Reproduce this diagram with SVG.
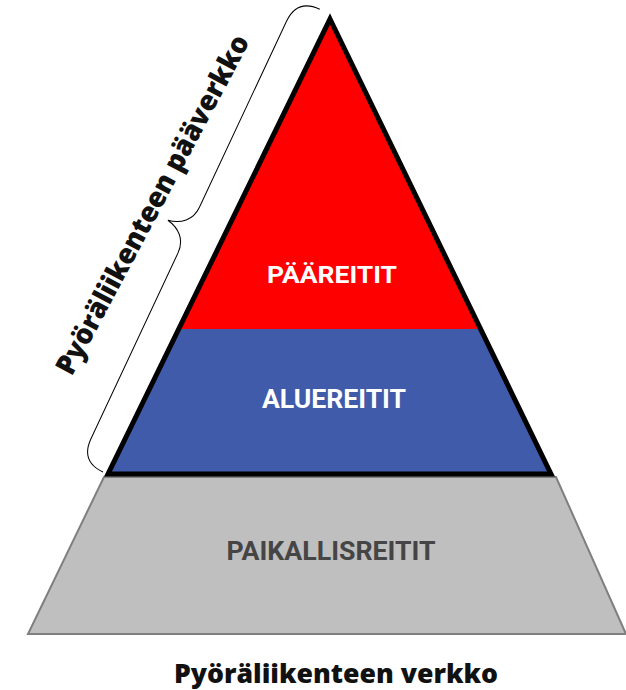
<svg xmlns="http://www.w3.org/2000/svg" width="626" height="690" viewBox="0 0 626 690">
<style>
.lbl{font-family:Roboto,"Liberation Sans",sans-serif;font-weight:bold;text-anchor:middle}
.ttl{font-family:"Open Sans","Liberation Sans",sans-serif;font-weight:800;fill:#111;text-anchor:middle}
</style>
<rect width="626" height="690" fill="#fff"/>
<g id="paikallisreitit">
<polygon points="104,477 556,477 626,634 28,634" fill="#BFBFBF" stroke="#7F7F7F" stroke-width="2"/>
<text class="lbl" x="331" y="560" font-size="25" fill="#454545" textLength="209" lengthAdjust="spacingAndGlyphs">PAIKALLISREITIT</text>
</g>
<g id="paareitit">
<polygon points="330,19 480.5,329 178.8,329" fill="#FF0000"/>
<text class="lbl" x="332" y="283" font-size="24" fill="#fff" textLength="130" lengthAdjust="spacingAndGlyphs">PÄÄREITIT</text>
</g>
<g id="aluereitit">
<polygon points="178.8,329 480.5,329 551,474 108,474" fill="#3F5BA9"/>
<text class="lbl" x="334" y="408" font-size="25" fill="#fff" textLength="144" lengthAdjust="spacingAndGlyphs">ALUEREITIT</text>
</g>
<g id="outline">
<polygon points="330,19 551,474 108,474" fill="none" stroke="#000" stroke-width="5" stroke-linejoin="miter"/>
</g>
<g id="connectors">
<path transform="translate(103,472) rotate(-64.9)" fill="none" stroke="#000" stroke-width="1" d="M0,0 C0,-16 8,-25 25,-25 L230,-25 C245,-25 253,-35 255.5,-48 C258,-35 266,-25 281,-25 L486,-25 C503,-25 511,-16 511,0"/>
</g>
<g id="labels">
<text class="ttl" x="0" y="0" font-size="28" transform="translate(161,209) rotate(-62)" textLength="380" lengthAdjust="spacingAndGlyphs">Pyöräliikenteen pääverkko</text>
<text class="ttl" x="336" y="683" font-size="27" textLength="324" lengthAdjust="spacingAndGlyphs">Pyöräliikenteen verkko</text>
</g>
</svg>
